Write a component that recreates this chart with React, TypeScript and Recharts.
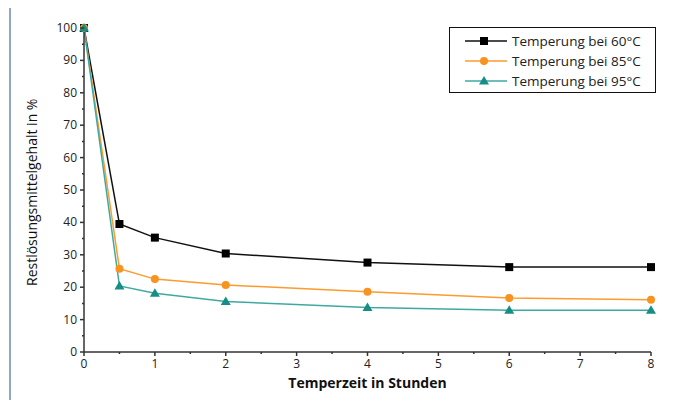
import React from 'react';
import { LineChart, Line, XAxis, YAxis } from 'recharts';

const hours = [0, 0.5, 1, 2, 4, 6, 8];
const temp60 = [100, 39.5, 35.3, 30.4, 27.6, 26.2, 26.2];
const temp85 = [100, 25.7, 22.5, 20.7, 18.6, 16.7, 16.1];
const temp95 = [100, 20.4, 18.1, 15.6, 13.7, 12.9, 12.9];

const xTicks = [0, 0.5, 1, 1.5, 2, 2.5, 3, 3.5, 4, 4.5, 5, 5.5, 6, 6.5, 7, 7.5, 8];
const yTicks = [0, 5, 10, 15, 20, 25, 30, 35, 40, 45, 50, 55, 60, 65, 70, 75, 80, 85, 90, 95, 100];

const seriesNames = ['Temperung bei 60°C', 'Temperung bei 85°C', 'Temperung bei 95°C'];

const data = hours.map((h, i) => ({ h, t60: temp60[i], t85: temp85[i], t95: temp95[i] }));

const FONT = '"Open Sans", sans-serif';
const AXIS = '#333';

const Square = ({ cx, cy, color }: any) => (
  <rect x={cx - 4} y={cy - 4} width={8} height={8} fill={color} />
);
const Circle = ({ cx, cy, color }: any) => <circle cx={cx} cy={cy} r={4} fill={color} />;
const Triangle = ({ cx, cy, color }: any) => (
  <polygon points={`${cx},${cy - 5} ${cx + 5},${cy + 3.5} ${cx - 5},${cy + 3.5}`} fill={color} />
);

const series = [
  { key: 't60', line: '#111', marker: '#000', Mark: Square },
  { key: 't85', line: '#ff9a2e', marker: '#f7931e', Mark: Circle },
  { key: 't95', line: '#3ea9a2', marker: '#178e85', Mark: Triangle },
];

const XTick = ({ x, y, payload }: any) => {
  const major = Number.isInteger(payload.value);
  return (
    <g>
      <line x1={x} x2={x} y1={y} y2={y + (major ? 4 : 2)} stroke={AXIS} strokeWidth={1.5} />
      {major && (
        <text x={x} y={y + 16} textAnchor="middle" fontSize={12} fontFamily={FONT} fill="#222">
          {payload.value}
        </text>
      )}
    </g>
  );
};

const YTick = ({ x, y, payload }: any) => {
  const major = payload.value % 10 === 0;
  return (
    <g>
      <line x1={x} x2={x - (major ? 4 : 2)} y1={y} y2={y} stroke={AXIS} strokeWidth={1.5} />
      {major && (
        <text x={x - 7} y={y + 4} textAnchor="end" fontSize={12} fontFamily={FONT} fill="#222">
          {payload.value}
        </text>
      )}
    </g>
  );
};

const LegendBox = () => (
  <div
    style={{
      position: 'absolute',
      left: 449,
      top: 27,
      width: 207,
      height: 66,
      border: '1.5px solid #111',
      background: '#fff',
      fontFamily: FONT,
      fontSize: 13.5,
      color: '#222',
      boxSizing: 'border-box',
      paddingTop: 3,
    }}
  >
    {series.map((s, i) => (
      <div key={s.key} style={{ display: 'flex', alignItems: 'center', height: 20, whiteSpace: 'nowrap' }}>
        <svg width={62} height={20} style={{ flexShrink: 0 }}>
          <line x1={15} x2={57} y1={10} y2={10} stroke={s.line} strokeWidth={1.5} />
          <s.Mark cx={34} cy={10} color={s.marker} />
        </svg>
        <span>{seriesNames[i]}</span>
      </div>
    ))}
  </div>
);

export default function App() {
  return (
    <div style={{ margin: -8, position: 'relative', width: 695, height: 408, background: '#fff', overflow: 'hidden' }}>
      <div
        style={{
          position: 'absolute',
          left: 9,
          top: 5,
          width: 680,
          height: 410,
          borderTop: '2px solid #8fa6c4',
          borderLeft: '2px solid #8fa6c4',
          borderRight: '2px solid #8fa6c4',
          boxSizing: 'border-box',
        }}
      />
      <div style={{ position: 'absolute', left: 0, top: 0 }}>
        <LineChart width={695} height={408} data={data} margin={{ top: 28, right: 44, bottom: 26, left: 24 }}>
          <XAxis
            dataKey="h"
            type="number"
            domain={[0, 8]}
            ticks={xTicks}
            interval={0}
            tickSize={0}
            tickMargin={0}
            tickLine={false}
            tick={<XTick />}
            axisLine={{ stroke: AXIS, strokeWidth: 1.5 }}
            height={30}
            label={{
              value: 'Temperzeit in Stunden',
              position: 'insideBottom',
              offset: -6,
              fontFamily: FONT,
              fontSize: 14,
              fontWeight: 'bold',
              fill: '#111',
            }}
          />
          <YAxis
            type="number"
            domain={[0, 100]}
            ticks={yTicks}
            interval={0}
            tickSize={0}
            tickMargin={0}
            tickLine={false}
            tick={<YTick />}
            axisLine={{ stroke: AXIS, strokeWidth: 1.5 }}
            width={60}
            label={{
              value: 'Restlösungsmittelgehalt in %',
              angle: -90,
              position: 'insideLeft',
              offset: 8,
              dy: 96,
              fontFamily: FONT,
              fontSize: 14,
              fill: '#111',
            }}
          />
          {series.map((s, i) => (
            <Line
              key={s.key}
              dataKey={s.key}
              name={seriesNames[i]}
              type="linear"
              stroke={s.line}
              strokeWidth={1.5}
              isAnimationActive={false}
              dot={(p: any) => <s.Mark key={`${s.key}-${p.index}`} cx={p.cx} cy={p.cy} color={s.marker} />}
              activeDot={false}
            />
          ))}
        </LineChart>
      </div>
      <LegendBox />
    </div>
  );
}
